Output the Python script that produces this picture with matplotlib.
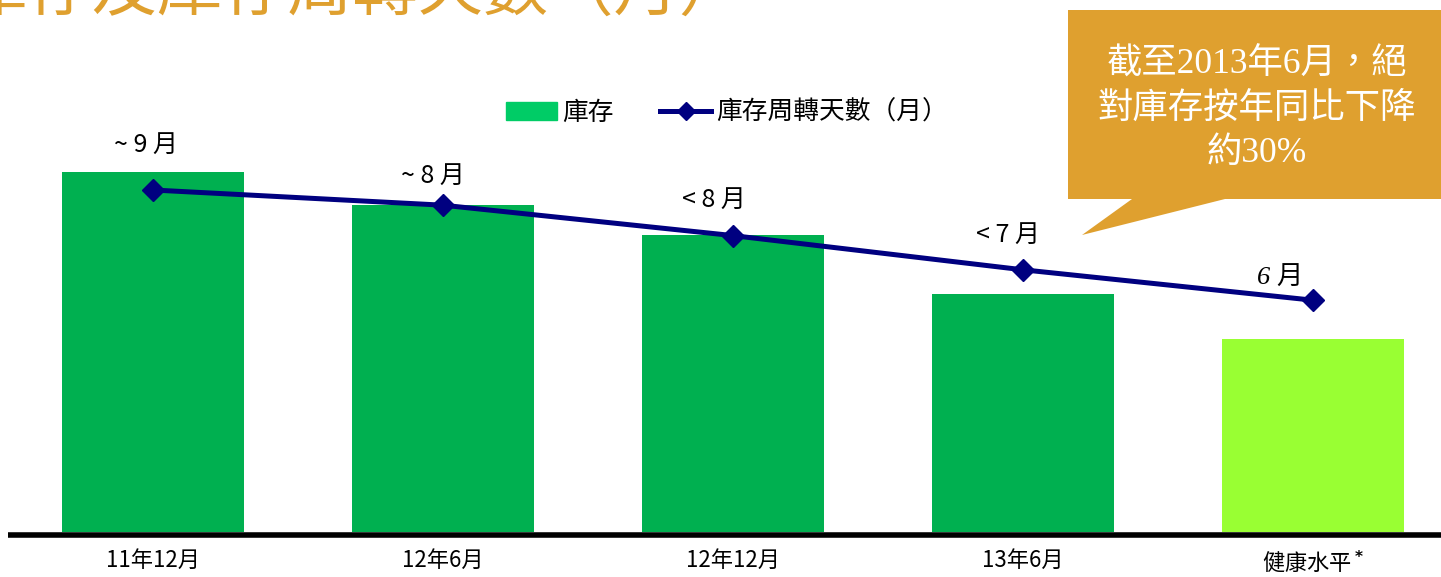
import matplotlib
matplotlib.use("Agg")
import matplotlib.pyplot as plt
from matplotlib.patches import Polygon, Patch
from matplotlib.lines import Line2D

plt.rcParams['font.family'] = ['Noto Sans CJK TC', 'DejaVu Sans']

# data
periods = ["11年12月", "12年6月", "12年12月", "13年6月", "健康水平$^{\\bf *}$"]
inventory = [100, 90.8, 82.5, 66.1, 53.6]          # relative inventory level
turnover = [9.0, 8.6, 7.8, 6.9, 6.1]               # inventory turnover (months)
turnover_labels = ["~ 9 月", "~ 8 月", "< 8 月", "< 7 月", "6 月"]
bar_colors = ["#00B050", "#00B050", "#00B050", "#00B050", "#99FF33"]

GOLD = "#DFA02F"
NAVY = "#000080"

W, H = 1441, 577
fig = plt.figure(figsize=(W / 100, H / 100), dpi=100)

# axes: bottom at pixel row 532, full width; x centers at 153 + 290*i
base = 532
ax = fig.add_axes([0, (H - base) / H, 1, base / H])
xs = list(range(len(periods)))
ax.set_xlim(-153 / 290, (W - 153) / 290)
ax.set_ylim(0, 100 * base / 360)
ax.bar(xs, inventory, width=0.628, color=bar_colors, zorder=2)

ax2 = ax.twinx()
ax2.set_ylim(0, 14)
ax2.plot(xs, turnover, color=NAVY, lw=3.6, marker="D", ms=11.5, zorder=3)

offsets = [(-7, 45), (-10, 29), (-19, 36), (-15, 35), (-33, 22)]
for i, (lab, (dx, dy)) in enumerate(zip(turnover_labels, offsets)):
    kw = dict(fontsize=18, color="black")
    if i == len(xs) - 1:
        kw.update(family=["Liberation Serif", "Noto Sans CJK TC"], style="italic", fontsize=19)
    ax2.annotate(lab, (xs[i], turnover[i]), xytext=(dx * 0.72, dy * 0.72),
                 textcoords="offset points", ha="center", va="center", **kw)

for a in (ax, ax2):
    for s in a.spines.values():
        s.set_visible(False)
    a.set_yticks([])
ax.set_xticks(xs)
ax.set_xticklabels(periods, fontsize=16)
ax.tick_params(axis="x", length=0, pad=12)

# thick baseline
ax.plot([(8 - 153) / 290, (W - 153) / 290], [-0.7, -0.7], color="black",
        lw=4, clip_on=False, zorder=4, solid_capstyle="butt")

# legend
handles = [Patch(color="#00CC66"),
           Line2D([], [], color=NAVY, lw=3.6, marker="D", ms=9)]
fig.legend(handles, ["庫存", "庫存周轉天數（月）"], loc="center",
           bbox_to_anchor=(727 / W, 1 - 113 / H), ncol=2, frameon=False,
           handlelength=2.0, handleheight=0.7, columnspacing=1.8,
           handletextpad=0.2, prop={"size": 18.5, "style": "italic"})

# title (mostly cut off at the top edge)
fig.text(-38 / W, 1 - 11 / H, "庫存及庫存周轉天數（月）", color=GOLD,
         fontsize=47, ha="left", va="baseline")

# callout box
px = lambda x, y: (x / W, 1 - y / H)
box = [px(1068, 10), px(1445, 10), px(1445, 199), px(1225, 199),
       px(1082, 235), px(1132, 199), px(1068, 199)]
fig.patches.append(Polygon(box, closed=True, transform=fig.transFigure,
                           facecolor=GOLD, edgecolor="none"))
callout = ["截至2013年6月，絕", "對庫存按年同比下降", "約30%"]
for j, line in enumerate(callout):
    fig.text(1257 / W, 1 - (65 + 44 * j) / H, line, color="white", fontsize=25.5,
             ha="center", va="center",
             family=["Liberation Serif", "Noto Sans CJK TC"])

fig.savefig("out.png", dpi=100)
